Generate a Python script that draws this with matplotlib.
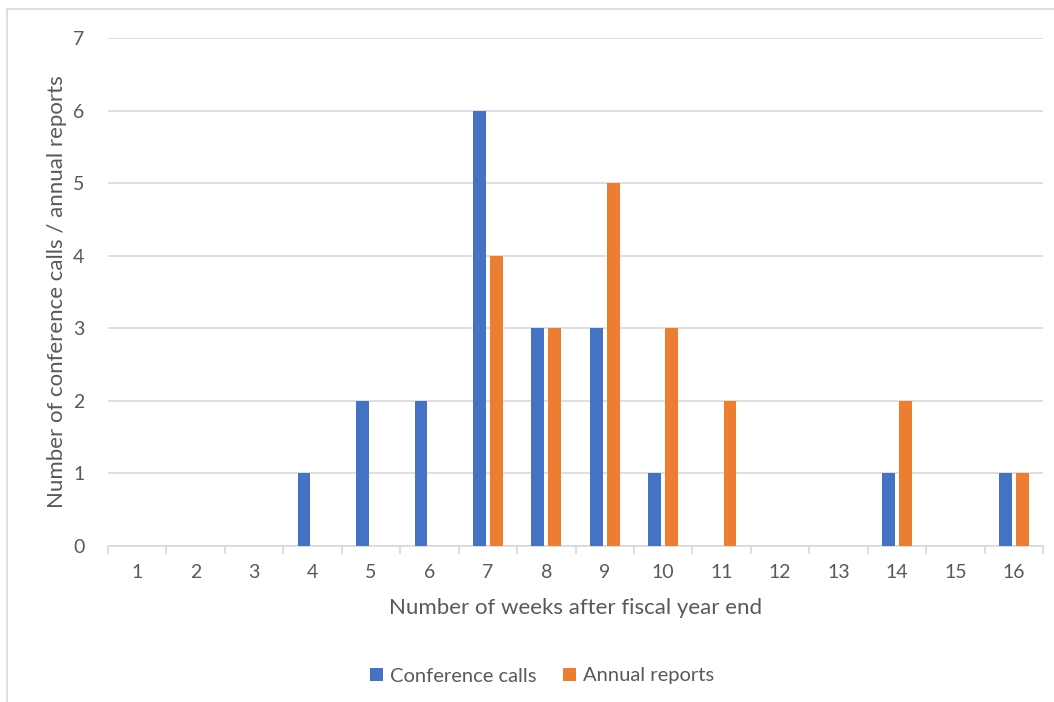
import numpy as np
import matplotlib.pyplot as plt
from matplotlib.lines import Line2D

plt.rcParams['font.family'] = ['Lato', 'DejaVu Sans']

weeks = [str(w) for w in range(1, 17)]
conference_calls = [0, 0, 0, 1, 2, 2, 6, 3, 3, 1, 0, 0, 0, 1, 0, 1]
annual_reports = [0, 0, 0, 0, 0, 0, 4, 3, 5, 3, 2, 0, 0, 2, 0, 1]

BLUE = '#4472C4'
ORANGE = '#ED7D31'
TXT = '#595959'
GRID = '#D9D9D9'

fig = plt.figure(figsize=(10.54, 7.02), dpi=100)
ax = fig.add_axes([108 / 1054, 1 - 546 / 702, 935 / 1054, 508 / 702])

x = np.arange(len(weeks))
w = 0.22
off = 0.145
ax.bar(x - off, conference_calls, width=w, color=BLUE, label='Conference calls', zorder=3)
ax.bar(x + off, annual_reports, width=w, color=ORANGE, label='Annual reports', zorder=3)

ax.set_xlim(-0.5, len(weeks) - 0.5)
ax.set_ylim(0, 7)
ax.set_yticks(range(8))
ax.yaxis.grid(True, color=GRID, linewidth=1.2, zorder=0)
ax.tick_params(axis='y', length=0, labelsize=14, colors=TXT, pad=17)

# category labels in the middle, tick marks on the boundaries
ax.set_xticks(x)
ax.set_xticklabels(weeks)
ax.set_xticks(np.arange(-0.5, len(weeks)), minor=True)
ax.tick_params(axis='x', which='major', length=0, labelsize=14, colors=TXT, pad=13)
ax.tick_params(axis='x', which='minor', length=6, width=1.2, color=GRID)

for s in ['top', 'right', 'left']:
    ax.spines[s].set_visible(False)
ax.spines['bottom'].set_color(GRID)
ax.spines['bottom'].set_linewidth(1.2)

ax.set_xlabel('Number of weeks after fiscal year end', fontsize=16, color=TXT, labelpad=12)
ax.set_ylabel('Number of conference calls / annual reports', fontsize=16, color=TXT, labelpad=4)

leg = fig.legend(loc='center', bbox_to_anchor=(542 / 1054, 1 - 676 / 702), ncol=2, frameon=False,
                 fontsize=14.5, handlelength=0.65, handleheight=0.65, columnspacing=1.3, handletextpad=0.35)
for t in leg.get_texts():
    t.set_color(TXT)

# chart area border
fig.add_artist(Line2D([7 / 1054, 7 / 1054], [0, 1 - 9 / 702], color=GRID, linewidth=1.2))
fig.add_artist(Line2D([7 / 1054, 1], [1 - 9 / 702, 1 - 9 / 702], color=GRID, linewidth=1.2))

fig.savefig('out.png', dpi=100)
